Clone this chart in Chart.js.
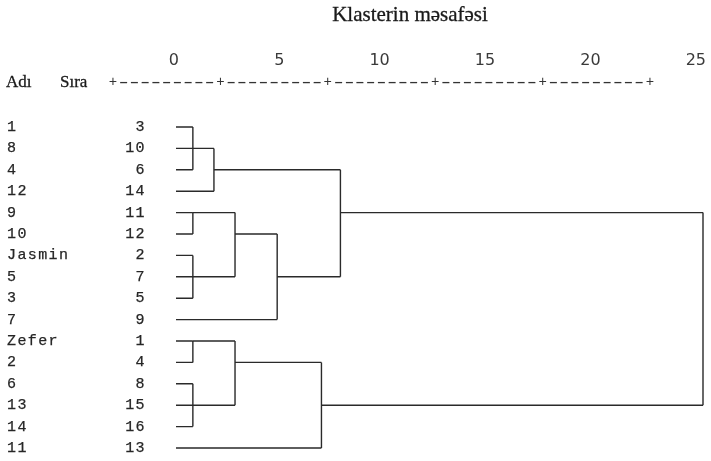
<!DOCTYPE html>
<html>
<head>
<meta charset="utf-8">
<script src="https://cdn.jsdelivr.net/npm/chart.js@4"></script>
<style>
  html, body { margin: 0; padding: 0; background: #fff; }
  #wrap { width: 711px; height: 461px; }
</style>
</head>
<body>
<div id="wrap"><canvas id="myChart"></canvas></div>
<script>
`use strict`

//Leaf labels, top to bottom
const names = ['1', '8', '4', '12', '9', '10', 'Jasmin', '5', '3', '7', 'Zefer', '2', '6', '13', '14', '11'];
const caseNums = [3, 10, 6, 14, 11, 12, 2, 7, 5, 9, 1, 4, 8, 15, 16, 13];
//Rescaled distance axis
const distTicks = [0, 5, 10, 15, 20, 25];
//Merges: which nodes join (0-15 are leaves, 16+ are earlier merges) and at what distance
const mergeKids = [[0, 1, 2], [4, 5], [6, 7, 8], [10, 11], [12, 13, 14], [16, 3], [17, 18], [19, 20], [22, 9], [23, 15], [21, 24], [26, 25]];
const mergeDist = [0.8, 0.8, 0.8, 0.8, 0.8, 1.8, 2.8, 2.8, 4.8, 6.9, 7.8, 25];

//Build node rows/heights then line paths for each merge
function buildDatasets() {
  let row = caseNums.map((c, i) => i);
  let height = caseNums.map(() => 0);
  let sets = [];
  mergeKids.forEach((kids, m) => {
    const h = mergeDist[m];
    const rows = kids.map(k => row[k]);
    const lo = Math.min(...rows), hi = Math.max(...rows);
    let pts = [];
    kids.forEach(k => {
      pts.push({x: height[k], y: row[k]}, {x: h, y: row[k]}, {x: NaN, y: NaN});
    });
    pts.push({x: h, y: lo}, {x: h, y: hi});
    sets.push({
      data: pts,
      showLine: true,
      spanGaps: false,
      borderColor: '#2a2a2a',
      borderWidth: 1.4,
      pointRadius: 0,
      clip: false
    });
    row.push(Math.floor(rows.reduce((a, b) => a + b, 0) / rows.length));
    height.push(h);
  });
  return sets;
}

//Text around the tree (title, header, axis string, labels)
const textPlugin = {
  id: 'texts',
  afterDraw(chart) {
    const ctx = chart.ctx;
    const xs = chart.scales.x, ys = chart.scales.y;
    ctx.save();
    ctx.fillStyle = '#1a1a1a';
    ctx.strokeStyle = '#1a1a1a';
    ctx.font = '21px "Liberation Serif"';
    ctx.textAlign = 'center';
    ctx.textBaseline = 'alphabetic';
    ctx.fillText('Klasterin məsafəsi', 410, 21);
    ctx.lineWidth = 0.3;
    ctx.strokeText('Klasterin məsafəsi', 410, 21);

    ctx.font = '17px "Liberation Serif"';
    ctx.textAlign = 'left';
    ctx.fillText('Adı', 6, 87);
    ctx.fillText('Sıra', 60, 87);
    ctx.strokeText('Adı', 6, 87);
    ctx.strokeText('Sıra', 60, 87);

    //tick numbers
    ctx.fillStyle = '#3a3a3a';
    ctx.font = '16px "DejaVu Sans"';
    ctx.textAlign = 'right';
    distTicks.forEach(t => {
      ctx.fillText(String(t), xs.getPixelForValue(t) + 3, 65);
    });

    //SPSS style axis string
    const axisStr = '+---------+---------+---------+---------+---------+';
    ctx.fillStyle = '#333';
    ctx.textAlign = 'center';
    ctx.textBaseline = 'middle';
    for (let i = 0; i < axisStr.length; i++) {
      const cx = 113 + i * 10.74;
      if (axisStr[i] == '+') {
        ctx.font = '14px "Liberation Mono"';
        ctx.fillText('+', cx, 82);
      } else {
        ctx.save();
        ctx.translate(cx, 82);
        ctx.scale(1.5, 1);
        ctx.font = '17px "Liberation Mono"';
        ctx.fillText('-', 0, 0);
        ctx.restore();
      }
    }

    //row labels
    ctx.fillStyle = '#262626';
    ctx.strokeStyle = '#262626';
    ctx.lineWidth = 0.25;
    ctx.font = '15px "Liberation Mono"';
    ctx.letterSpacing = '1.4px';
    names.forEach((n, i) => {
      const y = ys.getPixelForValue(i);
      ctx.textAlign = 'left';
      ctx.fillText(n, 7, y);
      ctx.strokeText(n, 7, y);
      ctx.textAlign = 'right';
      ctx.fillText(String(caseNums[i]), 146, y);
      ctx.strokeText(String(caseNums[i]), 146, y);
    });
    ctx.restore();
  }
};

function chartResults() {
  const ctx = document.getElementById('myChart').getContext('2d');
  const myChart = new Chart(ctx, {
    type: 'scatter',
    data: { datasets: buildDatasets() },
    options: {
      responsive: true,
      maintainAspectRatio: false,
      animation: false,
      layout: { padding: { left: 176, right: 8, top: 127, bottom: 13 } },
      plugins: { legend: { display: false }, tooltip: { enabled: false } },
      scales: {
        x: { type: 'linear', min: 0, max: 25, display: false },
        y: { type: 'linear', min: 0, max: 15, reverse: true, display: false }
      }
    },
    plugins: [textPlugin]
  });
};

//Run chart function
chartResults();
</script>
</body>
</html>
